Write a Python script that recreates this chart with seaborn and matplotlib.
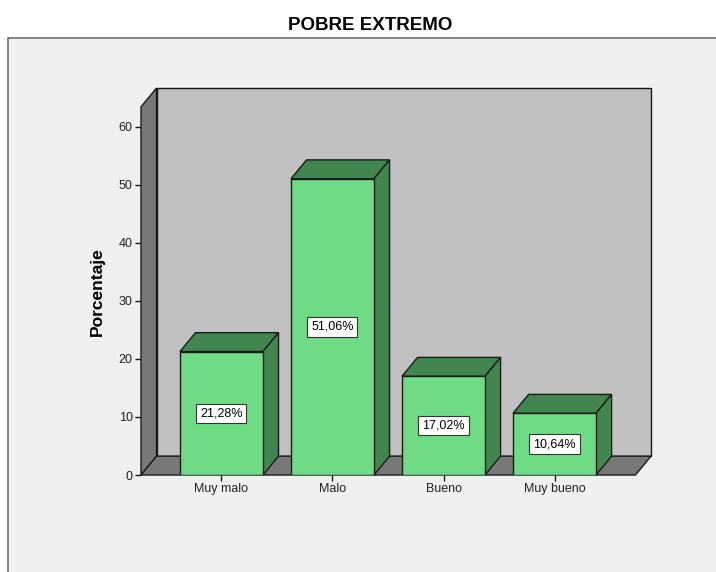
import matplotlib
matplotlib.use("Agg")
import matplotlib.pyplot as plt
import seaborn as sns
import pandas as pd
from matplotlib.patches import Polygon, Rectangle

# datos del gráfico
categorias = ["Muy malo", "Malo", "Bueno", "Muy bueno"]
porcentajes = [21.28, 51.06, 17.02, 10.64]
ticks_y = [0, 10, 20, 30, 40, 50, 60]

sns.set_theme(style="white")
plt.rcParams['font.family'] = ['Liberation Sans', 'DejaVu Sans']

verde_frente = "#6fdc85"
verde_oscuro = "#41864f"
gris_fondo = "#c0c0c0"
gris_pared = "#787878"
borde = "#1a1a1a"

# profundidad del efecto 3D (en unidades de datos)
DX = 0.14
DY = 3.25
X_MIN, X_MAX = -0.725, 3.869
Y_TOP = 66.7
PARED_TOP = Y_TOP - DY

fig = plt.figure(figsize=(7.16, 5.72), dpi=100, facecolor="white")

# marco gris claro del gráfico
marco = Rectangle((8 / 716, -0.01), 1.0, 1 - 38 / 572 + 0.01, transform=fig.transFigure,
                  facecolor="#f0f0f0", edgecolor="#707070", linewidth=1.2, zorder=0)
fig.add_artist(marco)

ax = fig.add_axes([141 / 716, 1 - 475 / 572, 510 / 716, 387 / 572])
ax.set_facecolor("none")

df = pd.DataFrame({"categoria": categorias, "porcentaje": porcentajes})
sns.barplot(data=df, x="categoria", y="porcentaje", color=verde_frente, saturation=1,
            width=83 / 111, edgecolor=borde, linewidth=1.0, ax=ax, zorder=3)

# paredes: fondo, lateral izquierda y piso
x_piso_der = X_MAX - DX
ax.add_patch(Polygon([(X_MIN + DX, DY), (X_MAX, DY), (X_MAX, Y_TOP), (X_MIN + DX, Y_TOP)],
                     closed=True, facecolor=gris_fondo, edgecolor=borde, linewidth=1.0,
                     zorder=0.5, clip_on=False))
ax.add_patch(Polygon([(X_MIN, 0), (X_MIN + DX, DY), (X_MIN + DX, Y_TOP), (X_MIN, PARED_TOP)],
                     closed=True, facecolor=gris_pared, edgecolor=borde, linewidth=1.0,
                     zorder=0.6, clip_on=False))
ax.add_patch(Polygon([(X_MIN, 0), (x_piso_der, 0), (X_MAX, DY), (X_MIN + DX, DY)],
                     closed=True, facecolor=gris_pared, edgecolor=borde, linewidth=1.0,
                     zorder=0.6, clip_on=False))

# caras superior y lateral de cada barra + etiquetas
for barra, valor in zip(ax.patches, porcentajes):
    x0 = barra.get_x()
    x1 = x0 + barra.get_width()
    h = barra.get_height()
    ax.add_patch(Polygon([(x0, h), (x1, h), (x1 + DX, h + DY), (x0 + DX, h + DY)],
                         closed=True, facecolor=verde_oscuro, edgecolor=borde,
                         linewidth=1.0, zorder=2.5, clip_on=False))
    ax.add_patch(Polygon([(x1, 0), (x1 + DX, DY), (x1 + DX, h + DY), (x1, h)],
                         closed=True, facecolor=verde_oscuro, edgecolor=borde,
                         linewidth=1.0, zorder=2.5, clip_on=False))
    texto = f"{valor:.2f}%".replace(".", ",")
    ax.text((x0 + x1) / 2, h / 2, texto, ha="center", va="center", fontsize=9,
            color="black", zorder=5,
            bbox=dict(boxstyle="square,pad=0.3", facecolor="white", edgecolor="#333333",
                      linewidth=0.8))

ax.set_xlim(X_MIN, X_MAX)
ax.set_ylim(0, Y_TOP)
ax.set_yticks(ticks_y)
ax.set_xticks(range(len(categorias)))
ax.set_xticklabels(categorias)
for s in ax.spines.values():
    s.set_visible(False)
ax.tick_params(axis="both", direction="out", length=4, width=1, color=borde,
               labelsize=9, labelcolor="#222222", pad=2, left=True, bottom=True)
ax.set_xlabel("")
ax.set_ylabel("Porcentaje", fontsize=12.5, fontweight="bold", color="black")
ax.yaxis.set_label_coords(-0.071, 0.473)

fig.text(370 / 716, 1 - 25 / 572, "POBRE EXTREMO", ha="center", va="center",
         fontsize=13.5, fontweight="bold", color="black")

fig.savefig("out.png", dpi=100, facecolor="white")
